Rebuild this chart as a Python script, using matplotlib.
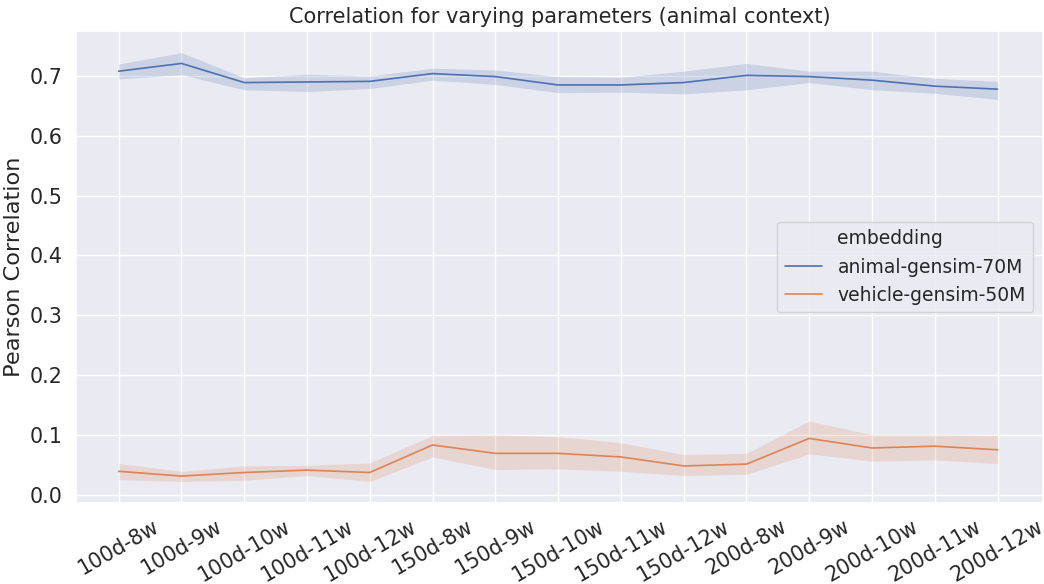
import numpy as np
import matplotlib
matplotlib.use("Agg")
import matplotlib.pyplot as plt
import seaborn as sns
from matplotlib.lines import Line2D

params = ['100d-8w', '100d-9w', '100d-10w', '100d-11w', '100d-12w',
          '150d-8w', '150d-9w', '150d-10w', '150d-11w', '150d-12w',
          '200d-8w', '200d-9w', '200d-10w', '200d-11w', '200d-12w']

# animal-gensim-70M : mean and confidence band
animal_mean = [0.708, 0.721, 0.689, 0.690, 0.691, 0.704, 0.699, 0.685,
               0.685, 0.689, 0.701, 0.699, 0.693, 0.683, 0.678]
animal_low = [0.695, 0.702, 0.677, 0.674, 0.679, 0.693, 0.686, 0.672,
              0.673, 0.670, 0.677, 0.689, 0.677, 0.671, 0.661]
animal_high = [0.720, 0.739, 0.697, 0.703, 0.700, 0.713, 0.710, 0.699,
               0.698, 0.708, 0.721, 0.708, 0.708, 0.696, 0.691]

# vehicle-gensim-50M
vehicle_mean = [0.039, 0.031, 0.037, 0.041, 0.037, 0.083, 0.069, 0.069,
                0.063, 0.048, 0.051, 0.094, 0.078, 0.081, 0.075]
vehicle_low = [0.025, 0.022, 0.024, 0.032, 0.022, 0.063, 0.042, 0.043,
               0.039, 0.032, 0.034, 0.068, 0.056, 0.058, 0.052]
vehicle_high = [0.052, 0.039, 0.048, 0.049, 0.053, 0.099, 0.100, 0.097,
                0.087, 0.067, 0.069, 0.123, 0.100, 0.100, 0.099]

sns.set_theme(style='darkgrid', font_scale=1.35)
pal = sns.color_palette('deep')

fig = plt.figure(figsize=(10.44, 5.84), dpi=100)
ax = fig.add_axes([0.0728, 0.1387, 0.926, 0.808])

x = np.arange(len(params))
ax.plot(x, animal_mean, color=pal[0], lw=1.2)
ax.fill_between(x, animal_low, animal_high, color=pal[0], alpha=0.2, lw=0)
ax.plot(x, vehicle_mean, color=pal[1], lw=1.2)
ax.fill_between(x, vehicle_low, vehicle_high, color=pal[1], alpha=0.2, lw=0)

ax.set_xticks(x)
ax.set_xticklabels(params, rotation=30)
ax.set_xlim(-0.68, 14.72)
ax.set_ylim(-0.014, 0.775)
ax.set_yticks(np.arange(0, 0.71, 0.1))
ax.set_xlabel('Model parameters')
ax.set_ylabel('Pearson Correlation')
ax.set_title('Correlation for varying parameters (animal context)', fontsize=15)

handles = [Line2D([], [], color='none'),
           Line2D([], [], color=pal[0], lw=1.2),
           Line2D([], [], color=pal[1], lw=1.2)]
labels = ['embedding', 'animal-gensim-70M', 'vehicle-gensim-50M']
ax.legend(handles, labels, loc='center right', fontsize=13.5)

fig.savefig('out.png', dpi=100)
